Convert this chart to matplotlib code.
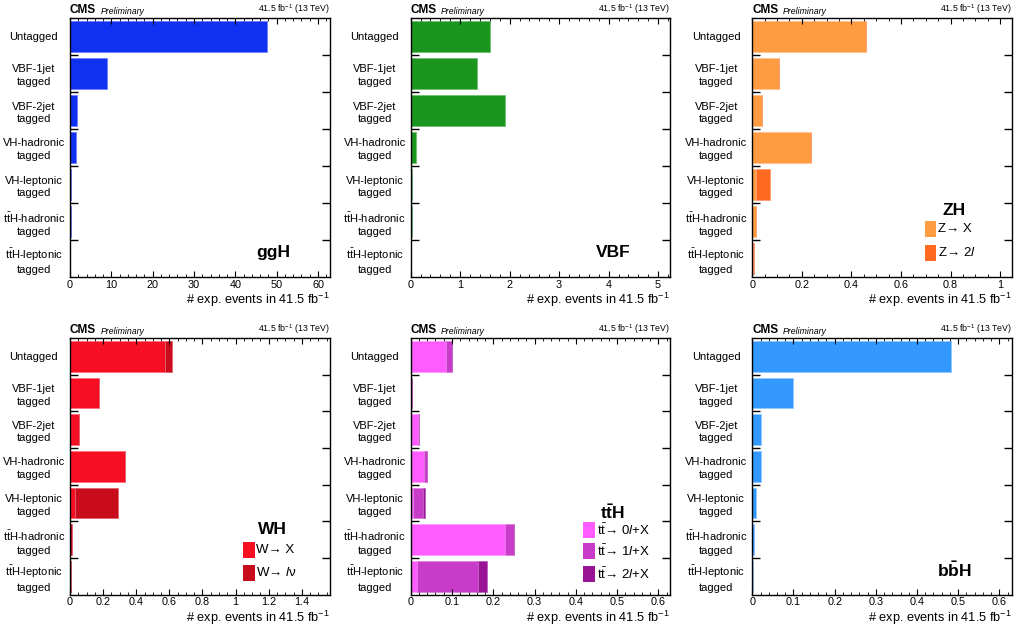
import matplotlib
matplotlib.use('Agg')
import matplotlib.pyplot as plt
from matplotlib.patches import Rectangle
from matplotlib.ticker import MultipleLocator, FuncFormatter

plt.rcParams['font.family'] = ['Liberation Sans', 'DejaVu Sans']
plt.rcParams['mathtext.fontset'] = 'custom'
plt.rcParams['mathtext.rm'] = 'Liberation Sans'
plt.rcParams['mathtext.it'] = 'Liberation Sans:italic'
plt.rcParams['mathtext.bf'] = 'Liberation Sans:bold'

# categories, top to bottom
categories = ['Untagged', 'VBF-1jet\ntagged', 'VBF-2jet\ntagged', 'VH-hadronic\ntagged',
              'VH-leptonic\ntagged', '$\\mathrm{t\\bar{t}H}$-hadronic\ntagged',
              '$\\mathrm{t\\bar{t}H}$-leptonic\ntagged']

# expected events per category
ggh = [47.6, 8.9, 1.8, 1.45, 0.2, 0.15, 0.08]
vbf = [1.61, 1.33, 1.90, 0.107, 0.03, 0.03, 0.01]
zh_zx = [0.458, 0.108, 0.038, 0.237, 0.015, 0.015, 0.003]
zh_z2l = [0.0, 0.0, 0.0, 0.0, 0.057, 0.0, 0.002]
wh_wx = [0.576, 0.176, 0.055, 0.333, 0.030, 0.002, 0.002]
wh_wlv = [0.040, 0.0, 0.0, 0.0, 0.257, 0.008, 0.006]
tth_0l = [0.086, 0.001, 0.017, 0.032, 0.005, 0.2285, 0.0145]
tth_1l = [0.013, 0.002, 0.004, 0.007, 0.026, 0.0205, 0.1475]
tth_2l = [0.0, 0.0, 0.0, 0.0, 0.004, 0.0, 0.024]
bbh = [0.482, 0.0996, 0.0204, 0.021, 0.008, 0.003, 0.001]

xlabel = '# exp. events in 41.5 fb$^{-1}$'

fig = plt.figure(figsize=(10.14, 6.37), dpi=100)
W, H = 1014.0, 637.0


def make_axes(x0, y_top, y_bot, width):
    return fig.add_axes([x0 / W, (H - y_bot) / H, width / W, (y_bot - y_top) / H])


def draw_panel(ax, comps, colors, edges, xmax, major, minor):
    y = list(range(len(categories)))
    left = [0.0] * len(categories)
    for vals, c, ec in zip(comps, colors, edges):
        ax.barh(y, vals, left=left, height=0.84, color=c, edgecolor=ec, linewidth=0.6)
        left = [l + v for l, v in zip(left, vals)]
    ax.set_xlim(0, xmax)
    ax.set_ylim(len(categories) - 0.5, -0.5)
    ax.set_yticks(y)
    ax.set_yticklabels(categories)
    ax.set_yticks([i + 0.5 for i in range(len(categories) - 1)], minor=True)
    ax.tick_params(axis='y', which='major', length=0, pad=26, labelsize=8)
    ax.tick_params(axis='y', which='minor', length=6, width=1.0, direction='in',
                   left=True, right=True)
    for lab in ax.get_yticklabels():
        lab.set_horizontalalignment('center')
        lab.set_multialignment('center')
        lab.set_linespacing(1.35)
    ax.xaxis.set_major_locator(MultipleLocator(major))
    ax.xaxis.set_minor_locator(MultipleLocator(minor))
    ax.xaxis.set_major_formatter(FuncFormatter(lambda v, p: '%g' % round(v, 6)))
    ax.tick_params(axis='x', which='major', length=4, width=0.8, direction='in',
                   top=True, bottom=True, labelsize=7.8, pad=2)
    ax.tick_params(axis='x', which='minor', length=2, width=0.6, direction='in',
                   top=True, bottom=True)
    for s in ax.spines.values():
        s.set_linewidth(1.0)
    ax.text(0.0, 1.008, 'CMS', transform=ax.transAxes, fontsize=8.5, fontweight='bold',
            va='bottom', ha='left')
    ax.text(0.117, 1.008, 'Preliminary', transform=ax.transAxes, fontsize=6.3,
            style='italic', va='bottom', ha='left')
    ax.text(1.0, 1.008, '41.5 fb$^{-1}$ (13 TeV)', transform=ax.transAxes, fontsize=6.3,
            va='bottom', ha='right')
    ax.text(1.0, -0.09, xlabel, transform=ax.transAxes, fontsize=9.2, va='center', ha='right')


def draw_legend(ax, title, title_y, labels, colors, ys):
    ax.text(0.778, title_y, title, transform=ax.transAxes, fontsize=12.5,
            fontweight='bold', ha='center', va='center')
    for lab, c, yy in zip(labels, colors, ys):
        ax.add_patch(Rectangle((0.665, yy - 0.031), 0.045, 0.062, transform=ax.transAxes,
                               facecolor=c, edgecolor='none', clip_on=False))
        ax.text(0.717, yy, lab, transform=ax.transAxes, fontsize=9.5, ha='left', va='center')


def process_label(ax, txt):
    ax.text(0.78, 0.095, txt, transform=ax.transAxes, fontsize=12.5, fontweight='bold',
            ha='center', va='center')


# top row
ax1 = make_axes(70, 18, 277, 260)
draw_panel(ax1, [ggh], ['#1030f2'], ['#6f80ff'], 62.9, 10, 2)
process_label(ax1, 'ggH')

ax2 = make_axes(410.7, 18, 277, 259.3)
draw_panel(ax2, [vbf], ['#1a961e'], ['#70c070'], 5.24, 1, 0.2)
process_label(ax2, 'VBF')

ax3 = make_axes(752.3, 18, 277, 259.4)
zh_colors = ['#ff9c42', '#ff6a22']
draw_panel(ax3, [zh_zx, zh_z2l], zh_colors, ['#ffc090', '#ff9a70'], 1.047, 0.2, 0.05)
draw_legend(ax3, 'ZH', 0.256, ['Z\u2192 X', 'Z\u2192 2$l$'], zh_colors, [0.185, 0.093])

# bottom row
ax4 = make_axes(70, 338, 594.7, 260)
wh_colors = ['#f60f22', '#c80c1c']
draw_panel(ax4, [wh_wx, wh_wlv], wh_colors, ['#ff7080', '#e06070'], 1.57, 0.2, 0.05)
draw_legend(ax4, 'WH', 0.253, ['W\u2192 X', 'W\u2192 $l$\u03bd'], wh_colors, [0.173, 0.085])

ax5 = make_axes(410.7, 338, 594.7, 259.3)
tth_colors = ['#ff5cff', '#c93cc9', '#981494']
draw_panel(ax5, [tth_0l, tth_1l, tth_2l], tth_colors, ['#ff9cff', '#e080e0', '#c060c0'],
           0.628, 0.1, 0.02)
draw_legend(ax5, '$\\mathbf{t\\bar{t}H}$', 0.318,
            ['$\\mathrm{t\\bar{t}}$\u2192 0$l$+X', '$\\mathrm{t\\bar{t}}$\u2192 1$l$+X',
             '$\\mathrm{t\\bar{t}}$\u2192 2$l$+X'], tth_colors, [0.253, 0.171, 0.081])

ax6 = make_axes(752.3, 338, 594.7, 259.4)
draw_panel(ax6, [bbh], ['#3399ff'], ['#90c8ff'], 0.63, 0.1, 0.02)
process_label(ax6, '$\\mathbf{b\\bar{b}H}$')

fig.savefig('out.png', dpi=100)
